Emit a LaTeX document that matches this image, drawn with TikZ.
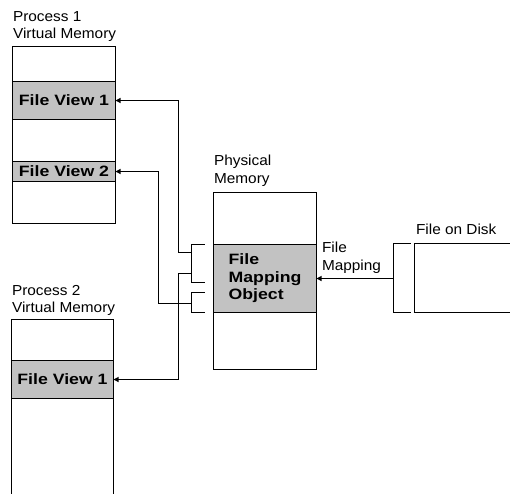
\documentclass[tikz,border=0pt]{standalone}
\usepackage{fontspec}
\setmainfont{Liberation Sans}
\newfontfamily\regf[FakeStretch=1.06]{Liberation Sans}
\newfontfamily\boldf[FakeStretch=1.18]{Liberation Sans}
\usetikzlibrary{arrows.meta}
\begin{document}
\begin{tikzpicture}[x=1pt,y=-1pt,line width=1.1pt,
  memblock/.style={inner sep=0pt,outer sep=0pt,anchor=north west,minimum width=103pt},
  band/.style={draw,fill=gray!48,inner sep=0pt,outer sep=0pt,anchor=north west,minimum width=103pt,
    font=\boldf\bfseries\fontsize{15}{17.5}\selectfont},
  lbl/.style={inner sep=0pt,anchor=north west,align=left,
    font=\regf\fontsize{14.5}{17.5}\selectfont},
  arr/.style={-{Triangle[length=5pt,width=5pt]}}]
\useasboundingbox (0,0) rectangle (510,493);
\begin{scope}[shift={(0.5,0.5)}]
% Process 1
\node[memblock,draw,minimum height=177pt] (p1) at (12,46) {};
\node[band,minimum height=38pt] (p1v1) at (12,81) {File View 1};
\node[band,minimum height=20pt] (p1v2) at (12,161) {File View 2};
\node[lbl] (p1l) at (12,10) {Process 1\\Virtual Memory};
% Process 2
\node[memblock,minimum width=102pt,minimum height=176pt] (p2) at (11,319) {};
\draw (p2.south west) -- (p2.north west) -- (p2.north east) -- (p2.south east);
\node[band,minimum width=102pt,minimum height=38pt] (p2v1) at (11,360) {File View 1};
\node[lbl] (p2l) at (11,284) {Process 2\\Virtual Memory};
% Physical memory
\node[memblock,draw,minimum height=177pt] (pm) at (213,192) {};
\node[band,minimum height=68pt,align=left] (fmo) at (213,244) {File\\Mapping\\Object};
\node[lbl] (pml) at (213,154) {Physical\\Memory};
% Disk
\node[memblock,minimum width=100pt,minimum height=69pt] (disk) at (414,243) {};
\draw (disk.north east) -- (disk.north west) -- (disk.south west) -- (disk.south east);
\node[lbl] (diskl) at (415,223) {File on Disk};
\node[lbl] (fml) at (321,241) {File\\Mapping};
% brackets
\coordinate (bat) at (204,244);
\coordinate (bab) at (204,282);
\coordinate (bbt) at (204,292);
\coordinate (bbb) at (204,312);
\coordinate (ja) at (191,252);
\coordinate (jp) at (191,273);
\coordinate (jb) at (191,303);
\draw (bat) -| (ja) |- (bab);
\draw (bbt) -| (jb) |- (bbb);
\coordinate (c1) at (178,100);
\coordinate (c2) at (158,171);
\coordinate (c3) at (178,379);
\draw[arr] (ja) -| (c1) -- (p1v1.east);
\draw[arr] (jb) -| (c2) -- (p1v2.east);
\draw[arr] (jp) -| (c3) -- (p2v1.east);
% disk bracket
\coordinate (dt) at (410,243);
\coordinate (db) at (410,312);
\coordinate (jd) at (393,278);
\draw (dt) -| (jd) |- (db);
\draw[arr] (jd) -- (fmo.east);
\end{scope}
\end{tikzpicture}
\end{document}
